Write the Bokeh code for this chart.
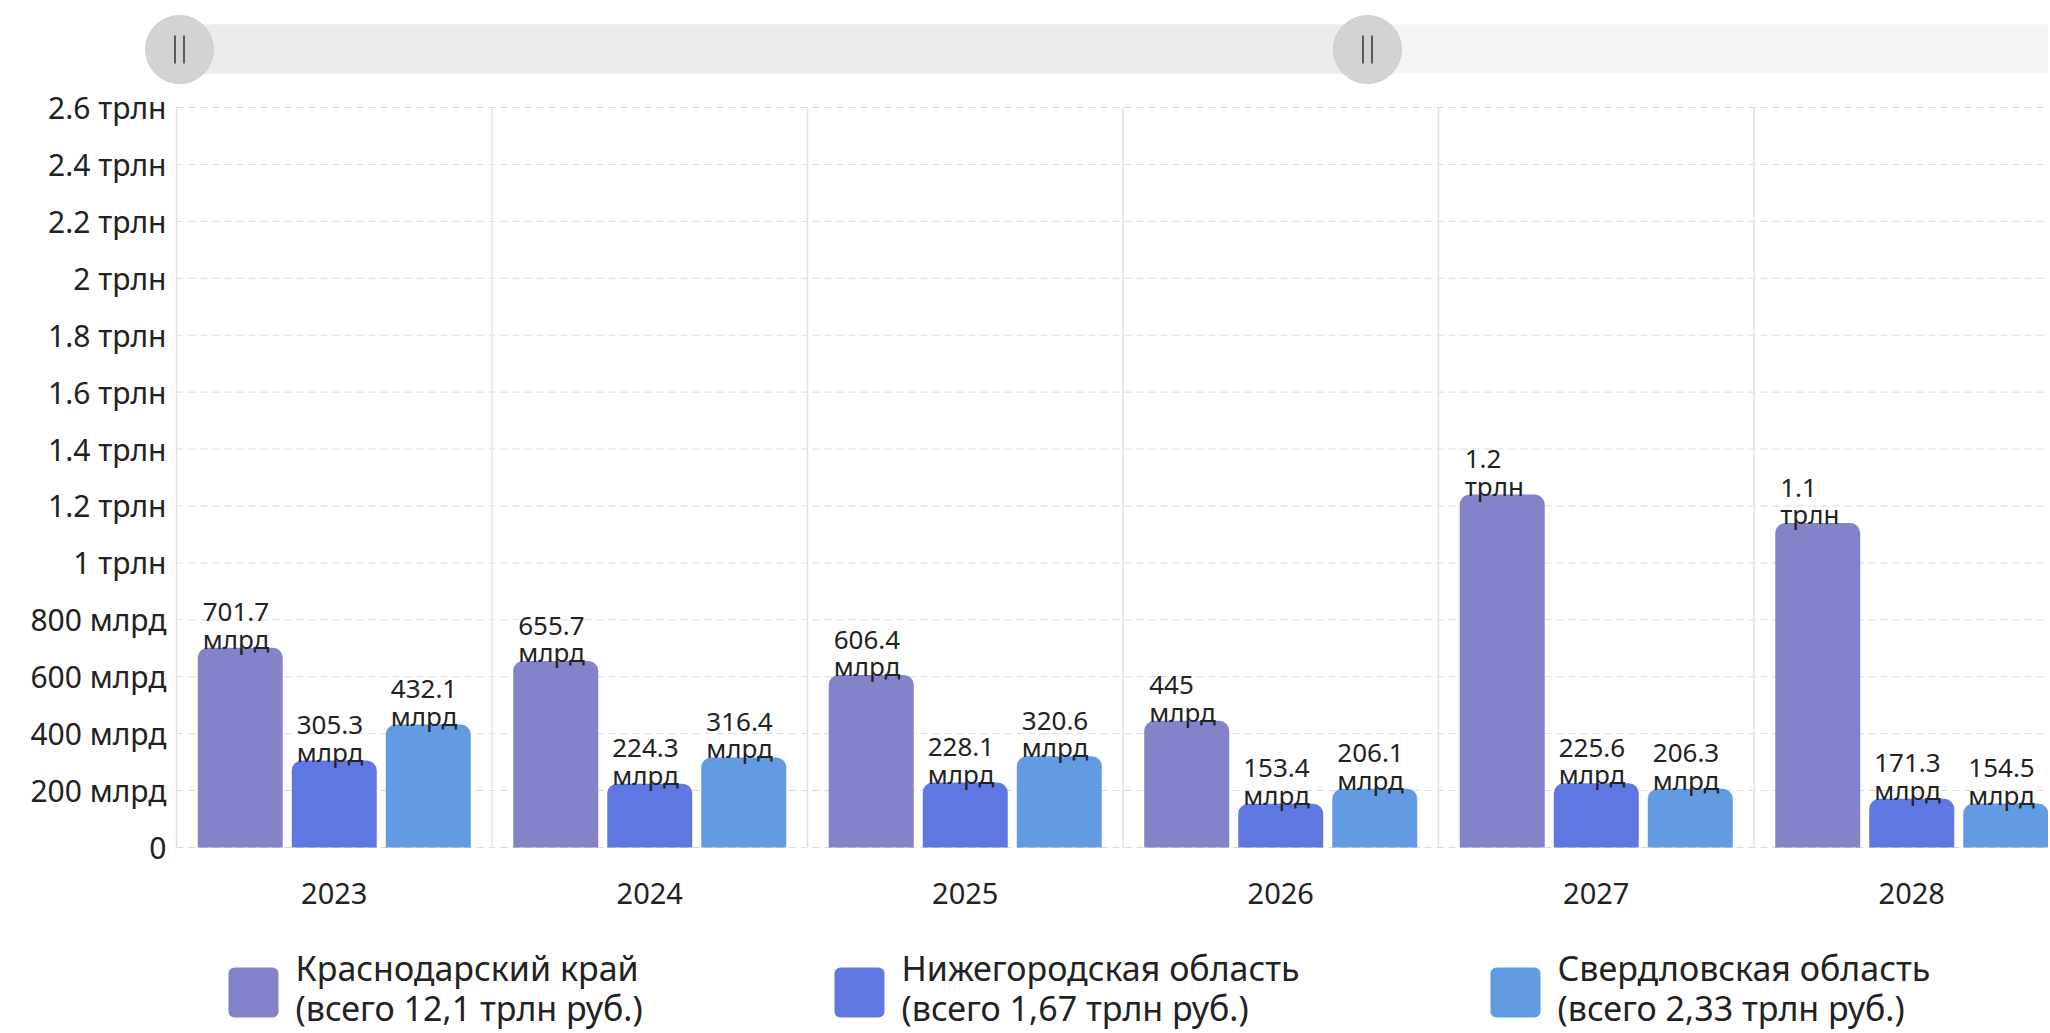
from bokeh.plotting import figure
from bokeh.layouts import column
from bokeh.models import Range1d
from bokeh.core.properties import value
from bokeh.embed import file_html
from bokeh.resources import INLINE

# ---------------- data ----------------
years = ["2023", "2024", "2025", "2026", "2027", "2028"]
krasnodar = [701.7, 655.7, 606.4, 445.0, 1240.0, 1140.0]   # млрд руб.
nizhny = [305.3, 224.3, 228.1, 153.4, 225.6, 171.3]
sverdlovsk = [432.1, 316.4, 320.6, 206.1, 206.3, 154.5]
regions = ["Краснодарский край", "Нижегородская область", "Свердловская область"]
totals = ["12,1", "1,67", "2,33"]
ytick_values = [0, 200, 400, 600, 800, 1000, 1200, 1400, 1600, 1800, 2000, 2200, 2400, 2600]
ytick_labels = ["0", "200 млрд", "400 млрд", "600 млрд", "800 млрд", "1 трлн", "1.2 трлн",
                "1.4 трлн", "1.6 трлн", "1.8 трлн", "2 трлн", "2.2 трлн", "2.4 трлн", "2.6 трлн"]

colors = ["#8482C8", "#5F78E1", "#629BE1"]
FONT = "Noto Sans"
TXT = "#222222"

W = 2048
SL_H = 86          # slider strip
MAIN_TOP, MAIN_BOT = 86, 930
LEG_BOT = 1032

# pixel geometry of the chart frame
PLOT_LEFT = 176
ZERO_Y = 847
CAT = 315.5
PPU = 740 / 2600.0


def fmt(v):
    if v >= 1000:
        return f"{v / 1000:.1f}\nтрлн"
    return f"{v:g}\nмлрд"


def bare(fig):
    fig.axis.visible = False
    fig.grid.visible = False
    fig.outline_line_color = None
    fig.background_fill_color = "white"
    fig.border_fill_color = "white"


# ---------------- slider (decoration) ----------------
s = figure(width=W, height=SL_H, x_range=Range1d(0, W), y_range=Range1d(SL_H, 0),
           output_backend="svg", toolbar_location=None, min_border=0)
bare(s)
s.quad(left=[146], right=[2070], top=[24], bottom=[73], fill_color="#f4f4f4",
       line_color=None, border_radius=24)
s.quad(left=[179], right=[1367], top=[24], bottom=[73], fill_color="#ececec",
       line_color=None)
s.scatter(x=[179, 1367], y=[49, 49], size=68, fill_color="#d3d3d3", line_color="#cdcdcd")
s.segment(x0=[174.5, 183.5, 1362.5, 1371.5], y0=[35] * 4, x1=[174.5, 183.5, 1362.5, 1371.5],
          y1=[63] * 4, line_color="#5a5a5a", line_width=2)

# ---------------- main chart ----------------
x0 = -PLOT_LEFT / CAT
x1 = (W - PLOT_LEFT) / CAT
y0 = (ZERO_Y - MAIN_BOT) / PPU
y1 = (ZERO_Y - MAIN_TOP) / PPU
p = figure(width=W, height=MAIN_BOT - MAIN_TOP, x_range=Range1d(x0, x1), y_range=Range1d(y0, y1),
           output_backend="svg", toolbar_location=None, min_border=0)
bare(p)

n = len(years)
ymax = ytick_values[-1]
# dashed horizontal grid
p.segment(x0=[0] * len(ytick_values), x1=[x1 + 1] * len(ytick_values),
          y0=ytick_values, y1=ytick_values, line_color="#d9d9d9", line_dash="7 5", line_width=1)
# vertical category separators
p.segment(x0=list(range(n)), x1=list(range(n)), y0=[0] * n, y1=[ymax] * n,
          line_color="#e2e2e2", line_width=1.5)

# y tick labels
p.text(x=[0] * len(ytick_values), y=ytick_values, text=ytick_labels, x_offset=-10,
       text_align="right", text_baseline="middle", text_font=value(FONT),
       text_font_size="30px", text_color=TXT)
# category labels
p.text(x=[i + 0.5 for i in range(n)], y=[0] * n, text=years, y_offset=46,
       text_align="center", text_baseline="middle", text_font=value(FONT),
       text_font_size="29px", text_color=TXT)

BW = 0.2694
PITCH = 0.298
for j, (vals, col) in enumerate(zip([krasnodar, nizhny, sverdlovsk], colors)):
    xs = [i + 0.5 + (j - 1) * PITCH for i in range(n)]
    p.vbar(x=xs, top=vals, bottom=0, width=BW, fill_color=col, line_color=None,
           border_radius=(10, 10, 0, 0))
    p.text(x=[x - BW / 2 for x in xs], y=vals, text=[fmt(v) for v in vals],
           x_offset=5, y_offset=9, text_align="left", text_baseline="bottom",
           text_font=value(FONT), text_font_size="26px", text_color=TXT,
           text_line_height=0.76)

# ---------------- legend ----------------
lg = figure(width=W, height=LEG_BOT - MAIN_BOT, x_range=Range1d(0, W),
            y_range=Range1d(LEG_BOT, MAIN_BOT),
            output_backend="svg", toolbar_location=None, min_border=0)
bare(lg)
sw_left = [228, 834, 1490]
lg.quad(left=sw_left, right=[x + 50 for x in sw_left], top=[967] * 3, bottom=[1017] * 3,
        fill_color=colors, line_color=None, border_radius=6)
lg.text(x=[x + 67 for x in sw_left], y=[LEG_BOT - 1] * 3,
        text=[f"{r}\n(всего {t} трлн руб.)" for r, t in zip(regions, totals)],
        text_align="left", text_baseline="bottom", text_font=value(FONT),
        text_font_size="34px", text_color=TXT, text_line_height=0.88)

layout = column(s, p, lg, spacing=0)
open("out.html", "w").write(file_html(layout, INLINE))
